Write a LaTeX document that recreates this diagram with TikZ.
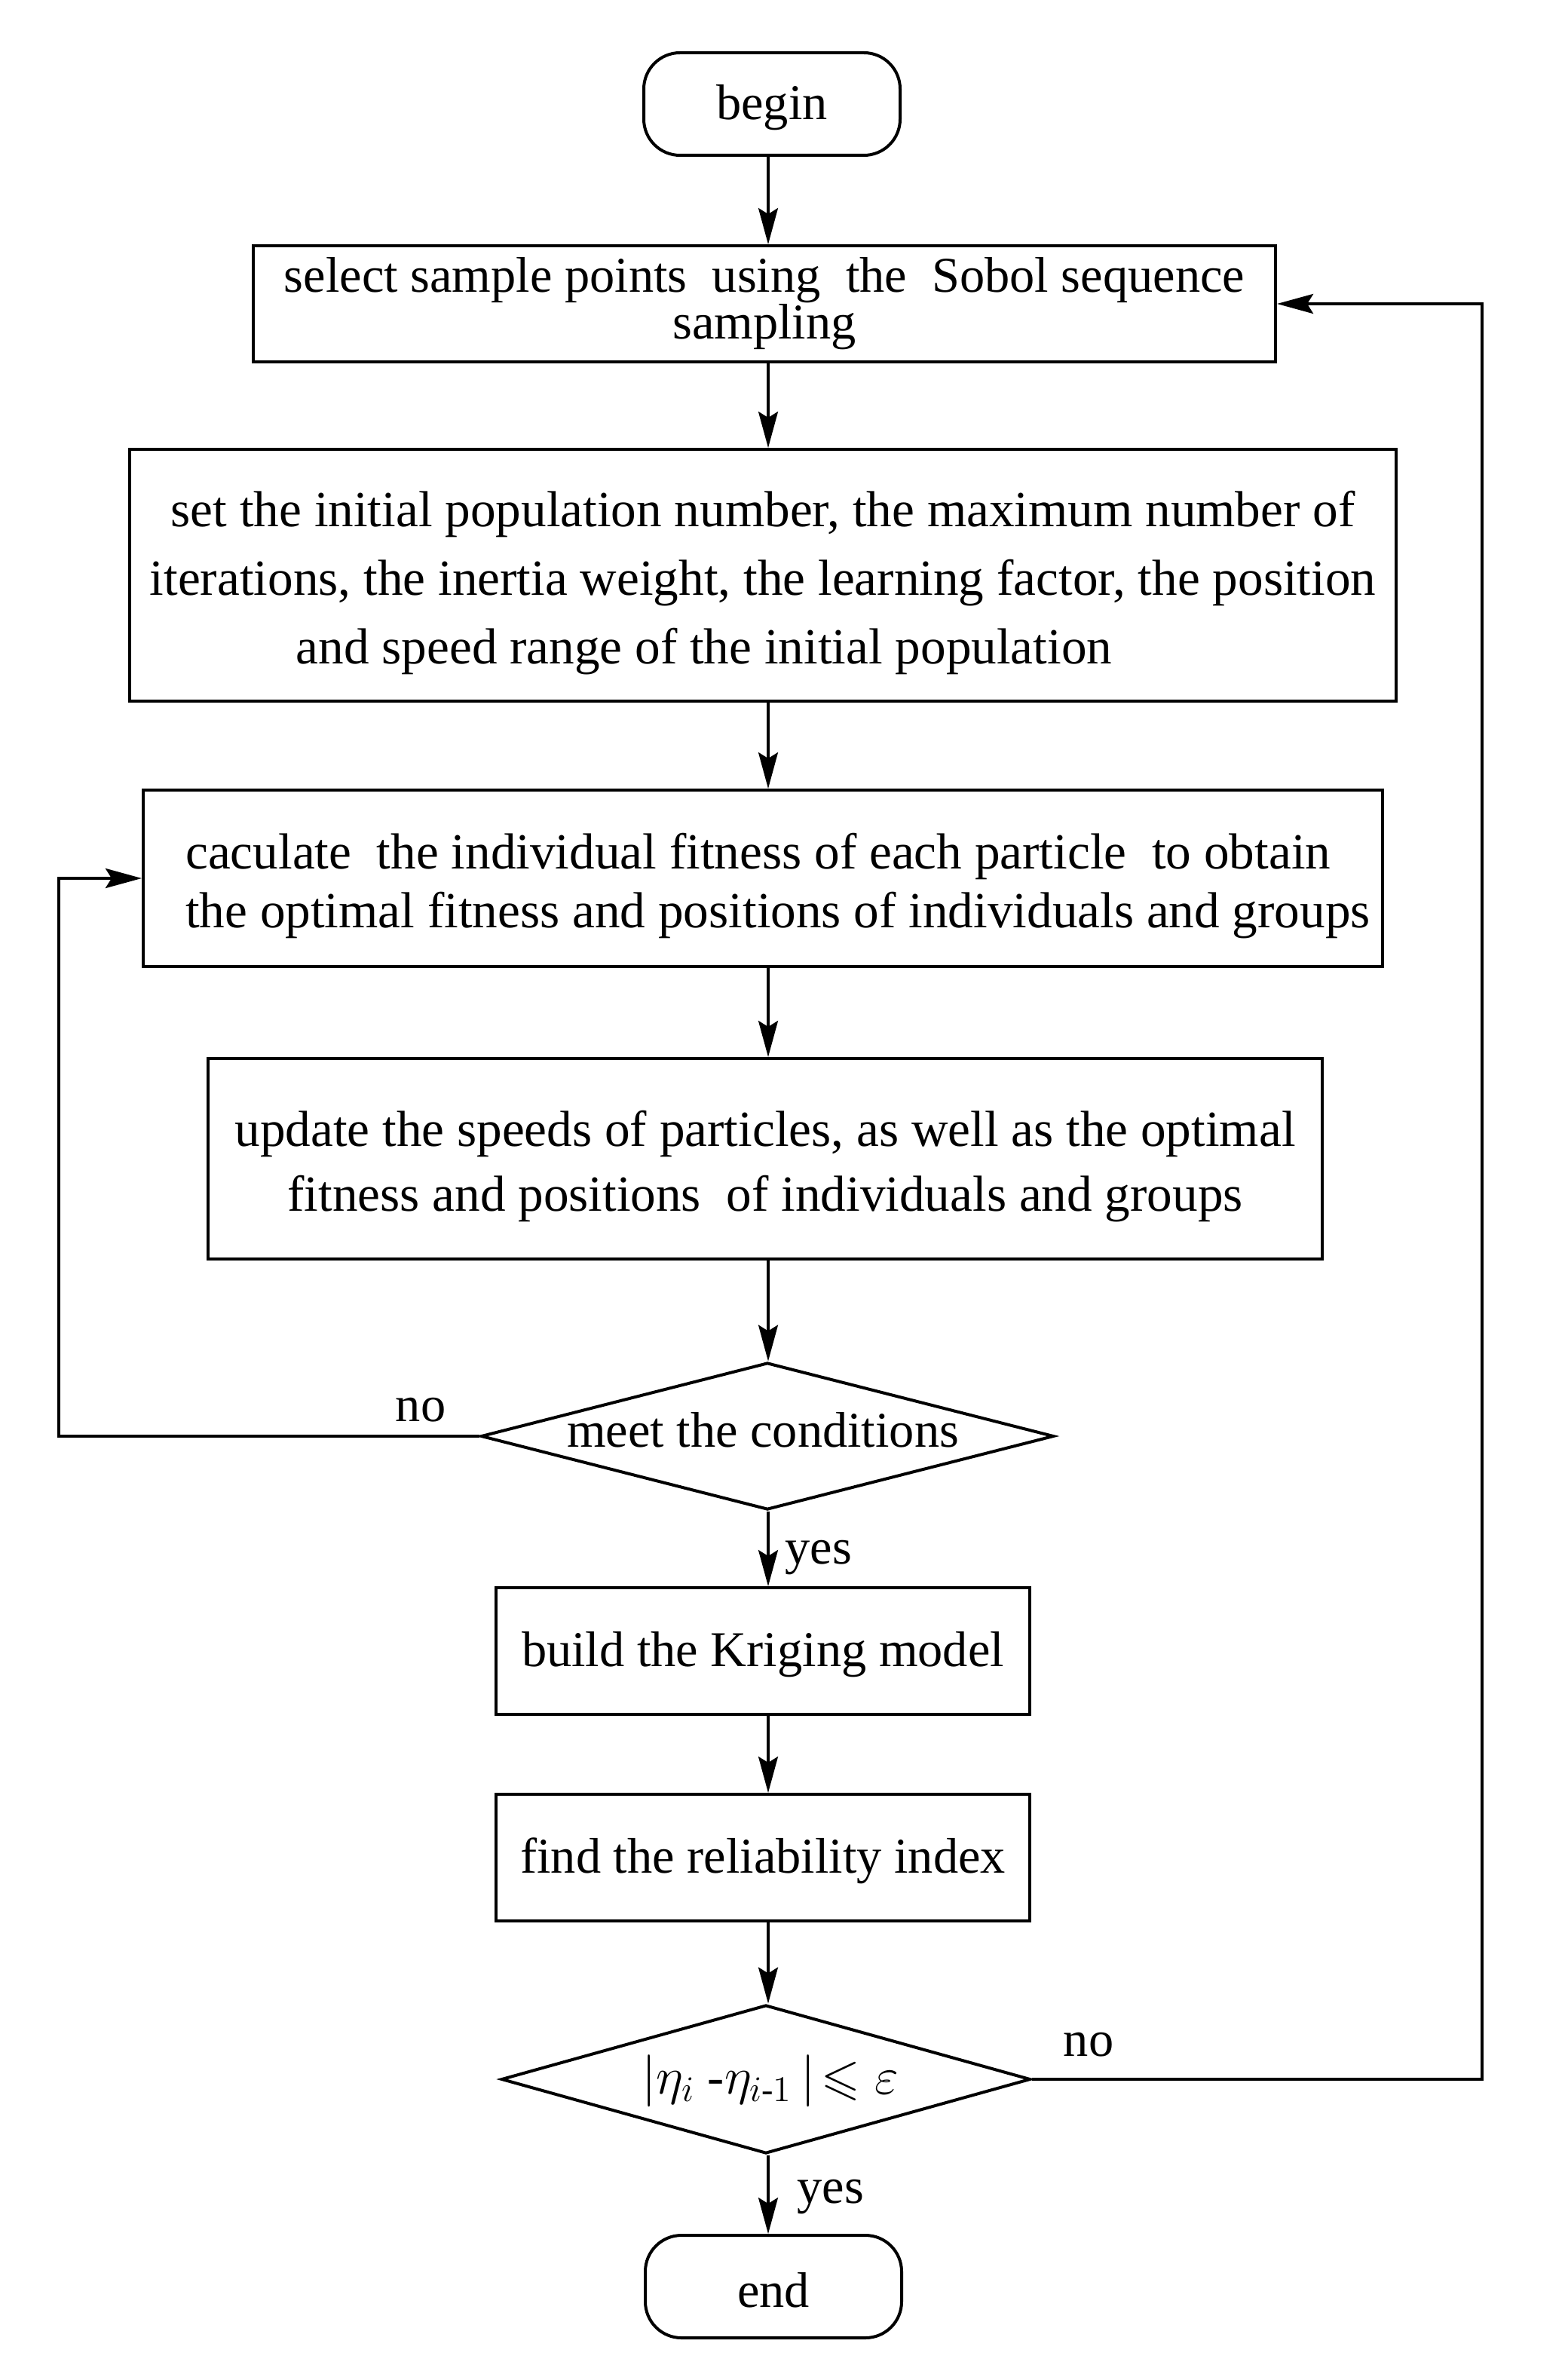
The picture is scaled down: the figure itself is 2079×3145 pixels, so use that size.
\documentclass[tikz,border=0pt]{standalone}
\usepackage{amsmath,amssymb}
\usepackage{fontspec}
\setmainfont{Liberation Serif}
\usetikzlibrary{shapes.geometric,arrows.meta,calc}
\newcommand{\toplift}{\rule{0pt}{17pt}}
\begin{document}
\begin{tikzpicture}[x=0.25pt,y=-0.25pt,
  font=\fontsize{16.6}{22}\selectfont,
  box/.style={draw,line width=1pt,rectangle,inner sep=0pt,align=center},
  term/.style={draw,line width=1pt,rounded corners=12pt,minimum width=85pt,minimum height=34pt,inner sep=0pt},
  dia/.style={draw,diamond,line width=1pt,inner sep=0pt},
  arr/.style={line width=0.8pt,-{Stealth[length=12pt,width=6.5pt,inset=2pt]}},
  looparr/.style={line width=1pt,-{Stealth[length=12pt,width=6.5pt,inset=2pt]}},
  lbl/.style={inner sep=0pt}]
\useasboundingbox (0,0) rectangle (2079,3145);
\coordinate (col) at (1019,0);
\node[term] (begin) at (1024,138) {\rule{0pt}{14pt}begin};
\node[box,minimum width=339pt,minimum height=38.5pt,font=\fontsize{16.6}{15.5}\selectfont] (b1) at (1014,403)
  {select sample points~ using~ the~ Sobol sequence\\sampling};
\node[box,minimum width=420pt,minimum height=83.5pt,font=\fontsize{16.8}{22.7}\selectfont] (b2) at (1012,763)
  {\toplift set the initial population number, the maximum number of\\
   iterations, the inertia weight, the learning factor, the position\\
   and speed range of the initial population\hspace*{39pt}};
\node[box,minimum width=411pt,minimum height=58.5pt,align=left,font=\fontsize{16.8}{19.5}\selectfont] (b3) at (1012,1165)
  {\hspace*{10pt}\toplift caculate~ the individual fitness of each particle~ to obtain\\
   \hspace*{10pt}the optimal fitness and positions of individuals and groups};
\node[box,minimum width=369.5pt,minimum height=66.5pt,font=\fontsize{16.8}{21.5}\selectfont] (b4) at (1015,1537)
  {\toplift update the speeds of particles, as well as the optimal\\
   fitness and positions~ of individuals and groups};
\node[dia,minimum width=190pt,minimum height=48.75pt] (d1) at (1018,1905) {};
\node[lbl] (d1t) at (1012,1897) {meet the conditions};
\node[box,minimum width=177pt,minimum height=42pt] (b5) at (1012,2190) {\rule{0pt}{14pt}build the Kriging model};
\node[box,minimum width=177pt,minimum height=42pt] (b6) at (1012,2464) {\rule{0pt}{14pt}find the reliability index};
\node[dia,minimum width=175.5pt,minimum height=49.25pt] (d2) at (1016,2758) {};
\node[lbl] (d2t) at (1022,2760) {$\lvert\eta_i\ \text{-}\eta_{i\text{-}1}\,\rvert\!\leqslant\varepsilon$};
\node[term] (end) at (1026,3033) {\rule{0pt}{14pt}end};
\node[lbl] (no1) at (558,1870) {no};
\node[lbl] (yes1) at (1086,2066) {yes};
\node[lbl] (no2) at (1444,2712) {no};
\node[lbl] (yes2) at (1102,2914) {yes};
\coordinate (c1) at (78,1905);
\coordinate (c2) at (1966,2758);
\draw[arr] (col |- begin.south) -- (col |- b1.north);
\draw[arr] (col |- b1.south) -- (col |- b2.north);
\draw[arr] (col |- b2.south) -- (col |- b3.north);
\draw[arr] (col |- b3.south) -- (col |- b4.north);
\draw[arr] (col |- b4.south) -- (col |- d1.north);
\draw[arr] (col |- d1.south) -- (col |- b5.north);
\draw[arr] (col |- b5.south) -- (col |- b6.north);
\draw[arr] (col |- b6.south) -- (col |- d2.north);
\draw[arr] (col |- d2.south) -- (col |- end.north);
\draw[looparr] (d1.west) -- (c1) |- (b3.west);
\draw[looparr] (d2.east) -- (c2) |- (b1.east);
\end{tikzpicture}
\end{document}
